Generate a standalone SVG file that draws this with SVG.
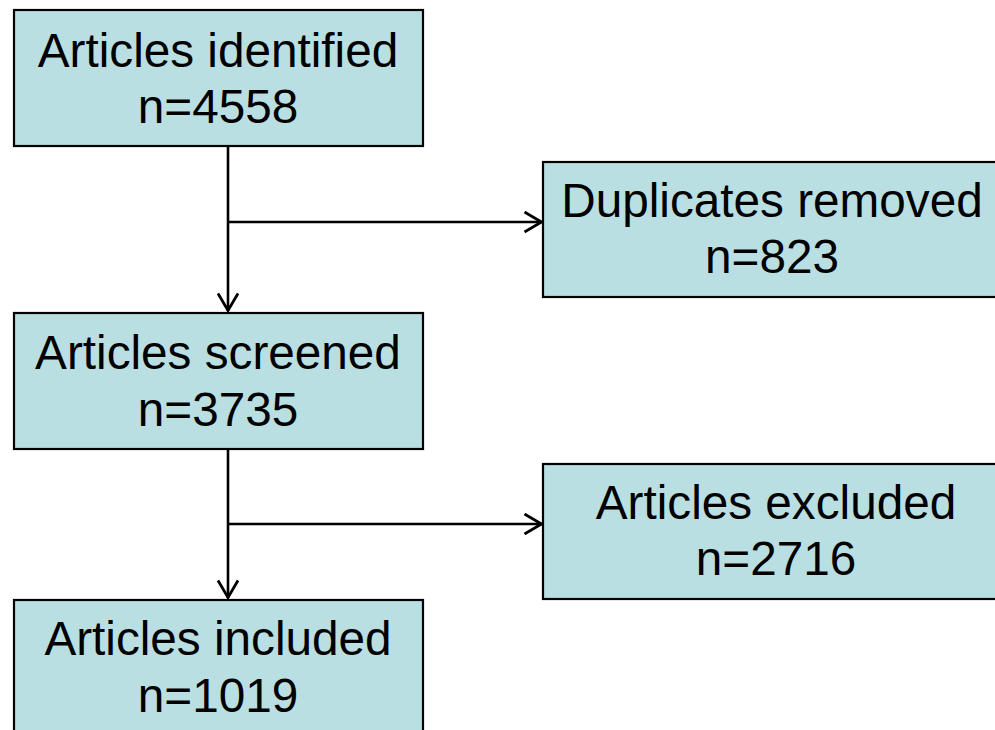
<svg xmlns="http://www.w3.org/2000/svg" width="995" height="730" viewBox="0 0 995 730">
<style>
.box{fill:#b9dfe3;stroke:#000;stroke-width:2.2}
.t{font-family:"Liberation Sans",Arial,sans-serif;font-size:47.7px;fill:#000;text-anchor:middle}
.ln{fill:none;stroke:#000;stroke-width:2.6}
</style>
<defs>
<marker id="ah" viewBox="0 0 20 22" refX="19" refY="11" markerWidth="20" markerHeight="22" markerUnits="userSpaceOnUse" orient="auto">
<path d="M1.5,1 L18.5,11 L1.5,21" fill="none" stroke="#000" stroke-width="2.8"/>
</marker>
</defs>
<g id="connectors">
<path class="ln" d="M228,146 V311" marker-end="url(#ah)"/>
<path class="ln" d="M228,222 H542" marker-end="url(#ah)"/>
<path class="ln" d="M228,449 V598" marker-end="url(#ah)"/>
<path class="ln" d="M228,524 H542" marker-end="url(#ah)"/>
</g>
<g id="identified">
<rect class="box" x="14" y="10" width="409" height="136"/>
<text class="t" x="218" y="67">Articles identified</text>
<text class="t" x="218" y="123">n=4558</text>
</g>
<g id="duplicates">
<rect class="box" x="543" y="162" width="460" height="135"/>
<text class="t" x="772" y="217">Duplicates removed</text>
<text class="t" x="772" y="273">n=823</text>
</g>
<g id="screened">
<rect class="box" x="14" y="313" width="409" height="136"/>
<text class="t" x="218" y="369">Articles screened</text>
<text class="t" x="218" y="426">n=3735</text>
</g>
<g id="excluded">
<rect class="box" x="543" y="464" width="460" height="135"/>
<text class="t" x="776" y="519">Articles excluded</text>
<text class="t" x="776" y="575">n=2716</text>
</g>
<g id="included">
<rect class="box" x="14" y="600" width="409" height="150"/>
<text class="t" x="218" y="655">Articles included</text>
<text class="t" x="218" y="712">n=1019</text>
</g>
</svg>
